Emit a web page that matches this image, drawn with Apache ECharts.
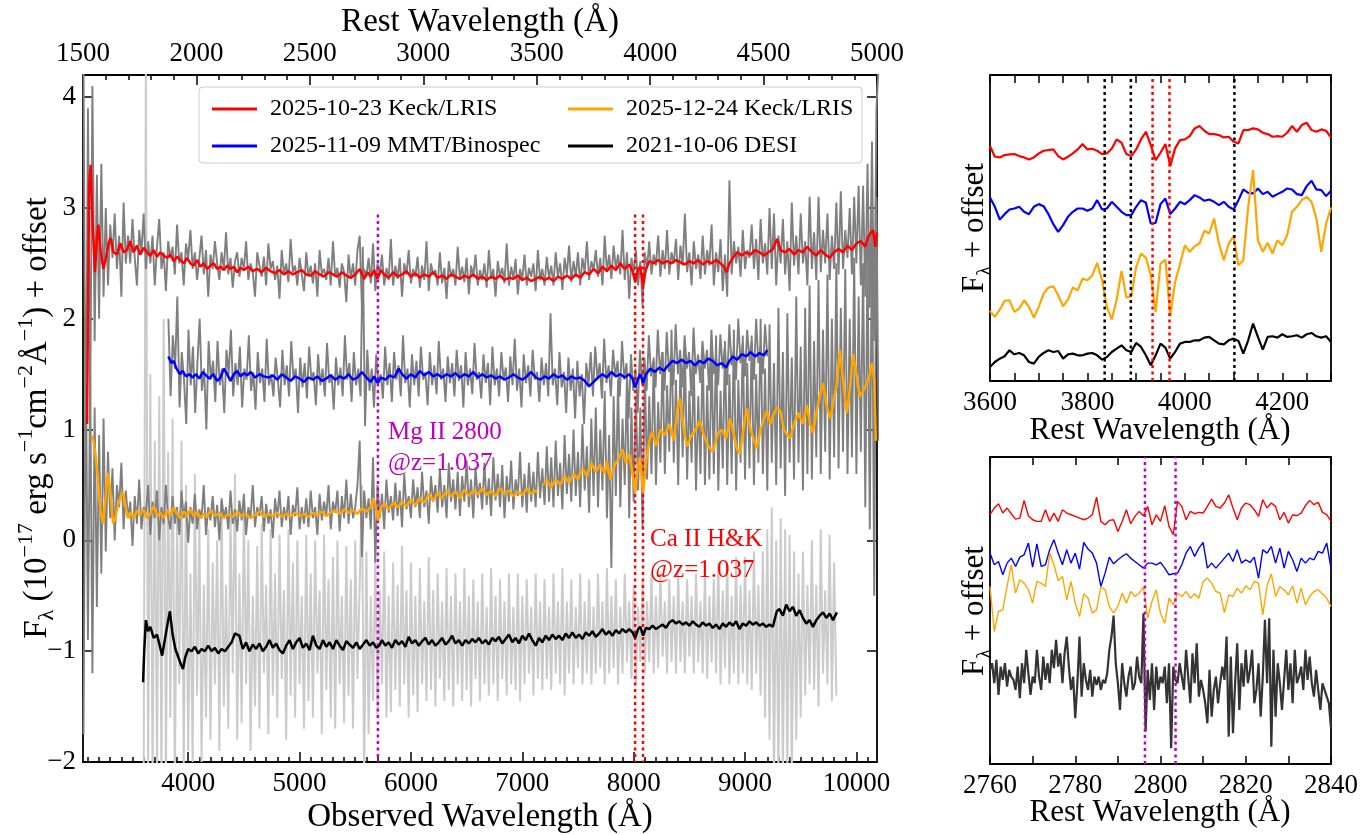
<!DOCTYPE html>
<html>
<head>
<meta charset="utf-8">
<script src="https://cdn.jsdelivr.net/npm/echarts@6/dist/echarts.min.js"></script>
<style>
  html, body { margin: 0; background: #fff; }
  #chart { width: 1372px; height: 835px; }
</style>
</head>
<body>
<div id="chart"></div>
<script>
// ── Redshift and line markers ───────────────────────────────────────────────
const Z = 1.037;
const REST_MIN = 1500, REST_MAX = 5000;
const mgRest = [2800];
const caRest = [3933.7, 3968.5];
const balmerRest = [3835.4, 3889.1, 4101.7];
const mgDoublet = [2796.35, 2803.53];
const markerTopFlux = 2.94;

// ── Main panel: smoothed spectra [observed Å, flux] ─────────────────────────
const lris1023 = [[3092,1.05],[3110,3.2],[3124,3.39],[3140,2.9],[3163,2.42],[3178,2.7],[3193,2.85],[3215,2.6],[3238,2.45],[3262,2.55],[3285,2.68],[3304,2.73],[3330,2.6],[3360,2.58],[3390,2.68],[3420,2.6],[3450,2.62],[3480,2.7],[3510,2.6],[3540,2.66],[3570,2.58],[3600,2.64],[3630,2.6],[3660,2.57],[3690,2.62],[3720,2.56],[3750,2.6],[3780,2.57],[3810,2.55],[3840,2.58],[3870,2.52],[3900,2.56],[3930,2.53],[3960,2.5],[3990,2.55],[4020,2.5],[4050,2.48],[4080,2.53],[4110,2.47],[4140,2.5],[4170,2.45],[4200,2.48],[4230,2.5],[4260,2.45],[4290,2.47],[4320,2.44],[4350,2.48],[4380,2.45],[4410,2.47],[4440,2.42],[4470,2.46],[4500,2.44],[4540,2.47],[4580,2.43],[4620,2.45],[4660,2.42],[4700,2.46],[4740,2.43],[4780,2.41],[4820,2.44],[4860,2.4],[4900,2.43],[4940,2.4],[4980,2.42],[5020,2.44],[5060,2.4],[5100,2.39],[5140,2.43],[5180,2.4],[5220,2.38],[5260,2.42],[5300,2.4],[5340,2.38],[5380,2.42],[5420,2.39],[5460,2.37],[5500,2.4],[5540,2.45],[5580,2.36],[5610,2.42],[5640,2.38],[5670,2.44],[5700,2.36],[5730,2.44],[5760,2.4],[5800,2.37],[5840,2.42],[5880,2.38],[5920,2.4],[5960,2.43],[6000,2.38],[6040,2.41],[6080,2.37],[6120,2.4],[6160,2.38],[6200,2.42],[6240,2.37],[6280,2.39],[6320,2.36],[6360,2.4],[6400,2.38],[6440,2.36],[6480,2.39],[6520,2.37],[6560,2.4],[6600,2.36],[6640,2.38],[6680,2.35],[6720,2.38],[6760,2.36],[6800,2.39],[6840,2.35],[6880,2.37],[6920,2.36],[6960,2.39],[7000,2.35],[7040,2.37],[7080,2.34],[7120,2.36],[7160,2.38],[7200,2.35],[7240,2.37],[7280,2.34],[7320,2.38],[7360,2.36],[7400,2.39],[7440,2.36],[7480,2.4],[7520,2.37],[7560,2.42],[7600,2.4],[7640,2.45],[7680,2.41],[7720,2.47],[7760,2.43],[7800,2.48],[7840,2.44],[7880,2.5],[7920,2.45],[7960,2.49],[7990,2.43],[8014,2.33],[8040,2.45],[8060,2.47],[8085,2.3],[8110,2.45],[8140,2.52],[8180,2.5],[8220,2.53],[8260,2.5],[8300,2.52],[8340,2.5],[8380,2.53],[8420,2.51],[8460,2.49],[8500,2.52],[8540,2.5],[8580,2.53],[8620,2.49],[8660,2.52],[8700,2.5],[8740,2.53],[8780,2.5],[8810,2.47],[8835,2.42],[8860,2.5],[8890,2.55],[8930,2.6],[8970,2.57],[9010,2.6],[9050,2.58],[9090,2.62],[9130,2.6],[9170,2.57],[9210,2.6],[9250,2.63],[9287,2.72],[9320,2.62],[9360,2.6],[9400,2.63],[9440,2.58],[9480,2.62],[9520,2.6],[9560,2.65],[9600,2.6],[9640,2.57],[9680,2.62],[9720,2.58],[9760,2.55],[9800,2.6],[9840,2.63],[9880,2.6],[9920,2.66],[9960,2.62],[10000,2.68],[10040,2.7],[10080,2.65],[10110,2.75],[10150,2.8],[10170,2.65],[10185,2.78]];

const mmt1109 = [[3822,1.66],[3850,1.6],[3870,1.62],[3895,1.55],[3925,1.5],[3950,1.53],[3980,1.48],[4010,1.5],[4040,1.47],[4070,1.5],[4100,1.46],[4130,1.52],[4160,1.49],[4190,1.46],[4225,1.5],[4260,1.44],[4290,1.47],[4320,1.55],[4350,1.5],[4380,1.44],[4410,1.5],[4440,1.53],[4470,1.48],[4500,1.51],[4530,1.49],[4560,1.52],[4600,1.47],[4640,1.5],[4680,1.48],[4720,1.47],[4760,1.49],[4800,1.45],[4840,1.5],[4880,1.47],[4920,1.44],[4960,1.48],[5000,1.46],[5040,1.43],[5080,1.47],[5120,1.45],[5160,1.48],[5200,1.44],[5240,1.46],[5280,1.49],[5320,1.45],[5360,1.48],[5400,1.46],[5440,1.5],[5480,1.45],[5520,1.47],[5560,1.52],[5600,1.47],[5640,1.43],[5670,1.48],[5700,1.42],[5730,1.47],[5770,1.45],[5810,1.49],[5850,1.47],[5890,1.55],[5920,1.5],[5960,1.46],[6000,1.5],[6040,1.47],[6080,1.53],[6120,1.49],[6160,1.52],[6200,1.48],[6240,1.5],[6280,1.47],[6320,1.5],[6360,1.48],[6400,1.51],[6440,1.47],[6480,1.5],[6520,1.48],[6560,1.52],[6600,1.47],[6640,1.5],[6680,1.47],[6720,1.49],[6760,1.46],[6800,1.48],[6840,1.45],[6880,1.47],[6920,1.5],[6960,1.47],[7000,1.45],[7040,1.48],[7080,1.52],[7120,1.47],[7160,1.45],[7200,1.48],[7240,1.46],[7280,1.5],[7320,1.47],[7360,1.49],[7400,1.45],[7440,1.48],[7480,1.46],[7520,1.47],[7560,1.44],[7600,1.39],[7640,1.43],[7680,1.47],[7720,1.5],[7760,1.47],[7800,1.52],[7840,1.48],[7880,1.5],[7920,1.47],[7960,1.5],[7990,1.46],[8014,1.38],[8040,1.46],[8060,1.5],[8085,1.42],[8110,1.5],[8150,1.55],[8190,1.52],[8230,1.56],[8270,1.53],[8310,1.58],[8350,1.62],[8390,1.6],[8430,1.63],[8470,1.6],[8510,1.62],[8550,1.58],[8590,1.62],[8630,1.6],[8670,1.64],[8710,1.62],[8750,1.58],[8790,1.6],[8830,1.56],[8860,1.62],[8890,1.66],[8930,1.63],[8970,1.68],[9010,1.66],[9050,1.7],[9090,1.66],[9130,1.69],[9170,1.67],[9200,1.72]];

const lris1224a = [[3133,0.95],[3150,0.9],[3170,0.75],[3190,0.55],[3210,0.3],[3235,0.15],[3255,0.35],[3280,0.61],[3300,0.45],[3325,0.15],[3345,0.2],[3370,0.32],[3395,0.4],[3415,0.43],[3440,0.3],[3460,0.2],[3480,0.25],[3510,0.2],[3540,0.27],[3570,0.23],[3600,0.28],[3630,0.2],[3660,0.24],[3690,0.31],[3720,0.22],[3750,0.25],[3780,0.2],[3810,0.27],[3840,0.22],[3870,0.3],[3900,0.24],[3930,0.2],[3960,0.26],[3990,0.22],[4020,0.28],[4050,0.22],[4080,0.26],[4110,0.2],[4140,0.24],[4170,0.21],[4200,0.27],[4240,0.22],[4280,0.25],[4320,0.2],[4360,0.24],[4400,0.21],[4440,0.26],[4480,0.22],[4520,0.24],[4560,0.2],[4600,0.23],[4640,0.26],[4680,0.21],[4720,0.24],[4760,0.22],[4800,0.25],[4840,0.21],[4880,0.24],[4920,0.22],[4960,0.25],[5000,0.22],[5040,0.24],[5080,0.21],[5120,0.25],[5160,0.23],[5200,0.26],[5240,0.22],[5280,0.25],[5320,0.27],[5360,0.24],[5400,0.28],[5440,0.25],[5480,0.27],[5520,0.24],[5560,0.29],[5600,0.26],[5640,0.3],[5665,0.38],[5690,0.27],[5705,0.18],[5730,0.3],[5760,0.33],[5800,0.28],[5840,0.34],[5880,0.3],[5920,0.35],[5960,0.31],[6000,0.37],[6040,0.32],[6080,0.38],[6120,0.34],[6160,0.42],[6200,0.36],[6240,0.43],[6280,0.38],[6320,0.45],[6360,0.4],[6400,0.44],[6440,0.38],[6480,0.46],[6520,0.4],[6560,0.45],[6600,0.42],[6640,0.47],[6680,0.41],[6720,0.45],[6760,0.4],[6800,0.47],[6840,0.42],[6880,0.45],[6920,0.4],[6960,0.44],[7000,0.41],[7040,0.47],[7080,0.42],[7120,0.45],[7135,0.43]];
const lris1224b = [[7185,0.5],[7220,0.54],[7260,0.48],[7300,0.55],[7340,0.5],[7380,0.58],[7420,0.52],[7460,0.6],[7500,0.55],[7540,0.65],[7580,0.58],[7620,0.7],[7660,0.62],[7700,0.68],[7740,0.6],[7760,0.72],[7790,0.55],[7830,0.68],[7870,0.75],[7900,0.82],[7930,0.7],[7960,0.78],[7990,0.6],[8014,0.43],[8035,0.65],[8055,0.75],[8070,0.6],[8085,0.43],[8110,0.7],[8140,0.9],[8170,0.98],[8200,0.85],[8240,1.0],[8280,0.95],[8320,1.05],[8360,0.9],[8395,1.2],[8415,1.28],[8450,1.0],[8480,0.85],[8520,0.95],[8560,1.0],[8595,1.08],[8630,0.95],[8670,0.85],[8712,0.8],[8750,0.95],[8790,1.0],[8830,0.92],[8865,1.1],[8900,0.95],[8930,0.82],[8955,0.78],[8985,1.0],[9017,1.19],[9050,1.0],[9080,0.9],[9105,0.83],[9140,1.0],[9170,1.1],[9195,1.17],[9230,1.05],[9260,1.15],[9290,1.2],[9315,1.17],[9350,1.0],[9380,0.95],[9405,0.92],[9440,1.05],[9480,1.15],[9520,1.05],[9555,1.22],[9585,1.05],[9610,0.97],[9640,1.15],[9670,1.3],[9700,1.42],[9735,1.2],[9765,1.1],[9795,1.25],[9825,1.42],[9852,1.72],[9885,1.4],[9915,1.15],[9945,1.4],[9970,1.68],[10000,1.5],[10030,1.3],[10060,1.35],[10095,1.42],[10120,1.5],[10140,1.6],[10160,1.45],[10175,0.9]];

const desi1006 = [[3595,-1.28],[3605,-1.0],[3620,-0.72],[3640,-0.82],[3660,-0.78],[3690,-0.88],[3720,-0.85],[3745,-0.95],[3766,-1.04],[3790,-0.9],[3815,-0.75],[3836,-0.64],[3860,-0.85],[3885,-0.98],[3910,-1.05],[3935,-1.12],[3953,-1.16],[3975,-1.05],[4000,-0.98],[4030,-1.0],[4060,-0.96],[4090,-1.02],[4120,-0.98],[4150,-1.0],[4180,-0.95],[4210,-1.0],[4240,-0.97],[4270,-1.02],[4300,-0.98],[4330,-1.0],[4360,-0.96],[4390,-0.92],[4420,-0.84],[4440,-0.85],[4460,-0.86],[4490,-0.98],[4520,-0.92],[4550,-1.0],[4580,-0.94],[4610,-0.98],[4640,-0.93],[4670,-1.0],[4700,-0.96],[4730,-0.9],[4760,-0.97],[4790,-0.93],[4820,-0.99],[4850,-1.02],[4880,-0.95],[4910,-0.9],[4940,-0.98],[4970,-0.92],[5000,-0.88],[5030,-0.97],[5060,-0.93],[5090,-0.99],[5120,-0.86],[5150,-0.95],[5180,-0.98],[5210,-0.9],[5240,-0.96],[5270,-0.92],[5300,-0.98],[5330,-0.9],[5360,-0.95],[5390,-0.99],[5420,-0.91],[5450,-0.94],[5480,-0.97],[5510,-0.92],[5540,-0.98],[5570,-0.94],[5600,-0.9],[5630,-0.95],[5660,-0.92],[5690,-0.97],[5715,-0.95],[5740,-0.9],[5770,-0.95],[5800,-0.92],[5830,-0.97],[5860,-0.9],[5890,-0.94],[5920,-0.91],[5950,-0.96],[5980,-0.87],[6010,-0.93],[6040,-0.9],[6070,-0.95],[6100,-0.91],[6130,-0.88],[6160,-0.94],[6190,-0.9],[6220,-0.95],[6250,-0.92],[6280,-0.88],[6310,-0.94],[6340,-0.91],[6370,-0.86],[6400,-0.93],[6430,-0.9],[6460,-0.95],[6490,-0.9],[6520,-0.93],[6550,-0.89],[6580,-0.92],[6610,-0.88],[6640,-0.93],[6670,-0.9],[6700,-0.94],[6730,-0.88],[6760,-0.91],[6790,-0.87],[6820,-0.93],[6850,-0.89],[6880,-0.85],[6910,-0.92],[6940,-0.88],[6970,-0.93],[7000,-0.86],[7030,-0.9],[7060,-0.84],[7090,-0.9],[7120,-0.95],[7150,-0.88],[7180,-0.92],[7210,-0.86],[7240,-0.9],[7270,-0.85],[7300,-0.89],[7330,-0.86],[7360,-0.9],[7390,-0.84],[7420,-0.88],[7450,-0.83],[7480,-0.88],[7510,-0.85],[7540,-0.89],[7570,-0.83],[7600,-0.86],[7630,-0.82],[7660,-0.87],[7690,-0.84],[7720,-0.8],[7750,-0.85],[7780,-0.82],[7810,-0.86],[7840,-0.81],[7870,-0.84],[7900,-0.8],[7930,-0.83],[7960,-0.8],[7990,-0.83],[8014,-0.88],[8040,-0.8],[8060,-0.78],[8085,-0.86],[8110,-0.79],[8140,-0.8],[8170,-0.77],[8200,-0.8],[8230,-0.78],[8260,-0.76],[8290,-0.79],[8320,-0.74],[8350,-0.72],[8380,-0.75],[8410,-0.73],[8440,-0.76],[8470,-0.74],[8500,-0.77],[8530,-0.73],[8560,-0.76],[8590,-0.78],[8620,-0.74],[8650,-0.77],[8680,-0.75],[8710,-0.79],[8740,-0.76],[8770,-0.8],[8800,-0.75],[8830,-0.78],[8860,-0.74],[8890,-0.77],[8920,-0.73],[8950,-0.8],[8980,-0.75],[9010,-0.77],[9040,-0.73],[9070,-0.76],[9100,-0.74],[9130,-0.77],[9160,-0.75],[9190,-0.78],[9220,-0.76],[9250,-0.78],[9285,-0.64],[9310,-0.62],[9340,-0.68],[9370,-0.58],[9400,-0.64],[9430,-0.6],[9460,-0.68],[9490,-0.63],[9520,-0.7],[9550,-0.75],[9580,-0.72],[9610,-0.78],[9640,-0.72],[9670,-0.68],[9700,-0.65],[9730,-0.7],[9760,-0.66],[9790,-0.72],[9825,-0.65]];

// ── Main panel: unsmoothed spectra, evenly sampled between the two ends ──────
const lris1023RawRange = [3060, 10200];
const lris1023Raw = [
  4.3,0.5,3.9,1.2,4.1,1.8,3.3,2.0,3.4,2.2, 3.0,2.3,2.85,2.55,2.95,2.45,2.75,2.2,3.05,2.5,
  2.75,2.5,2.9,2.55,2.3,2.8,2.6,2.95,2.45,2.7, 2.5,2.75,2.3,2.65,2.9,2.45,2.6,2.25,2.7,2.55,
  2.65,2.4,2.85,2.5,2.6,2.3,2.68,2.55,2.8,2.45, 2.6,2.35,2.55,2.75,2.4,2.62,2.2,2.58,2.45,2.7,
  2.5,2.35,2.6,2.45,2.78,2.4,2.55,2.28,2.52,2.6, 2.38,2.55,2.45,2.7,2.35,2.5,2.42,2.2,2.6,2.48,
  2.38,2.56,2.3,2.68,2.45,2.52,2.35,2.48,2.18,2.62, 2.4,2.5,2.33,2.72,2.42,2.48,2.3,2.55,2.4,2.25,
  2.6,2.38,2.48,2.32,2.5,2.2,2.62,2.4,2.45,2.35, 2.55,2.3,2.7,2.38,2.46,2.28,2.5,2.42,2.15,2.58,
  2.36,2.5,2.3,2.62,2.75,2.1,2.45,2.38,2.55,2.32, 2.68,2.25,2.5,2.4,2.58,2.3,2.46,2.35,2.72,2.3,
  2.48,2.36,2.55,2.2,2.5,2.4,2.62,2.32,2.45,2.38, 2.56,2.28,2.48,2.35,2.7,2.25,2.5,2.4,2.44,2.3,
  2.6,2.32,2.46,2.18,2.52,2.38,2.45,2.3,2.65,2.36, 2.47,2.33,2.55,2.22,2.48,2.38,2.58,2.3,2.44,2.35,
  2.5,2.28,2.62,2.36,2.45,2.2,2.52,2.38,2.46,2.32, 2.68,2.3,2.47,2.36,2.54,2.22,2.45,2.35,2.58,2.3,
  2.46,2.38,2.5,2.25,2.62,2.35,2.45,2.3,2.56,2.36, 2.48,2.3,2.6,2.38,2.5,2.26,2.55,2.4,2.66,2.33,
  2.52,2.38,2.6,2.3,2.55,2.42,2.7,2.35,2.52,2.44, 2.62,2.38,2.55,2.3,2.75,2.42,2.58,2.36,2.66,2.45,
  2.58,2.4,2.8,2.35,2.6,2.18,2.55,2.42,2.62,2.3, 2.52,2.12,2.6,2.45,2.7,2.4,2.58,2.48,2.75,2.38,
  2.62,2.45,2.8,2.4,2.6,2.5,2.72,2.35,2.66,2.48, 2.95,2.42,2.6,2.3,2.7,2.45,2.58,2.36,2.75,2.4,
  2.62,2.48,2.85,2.3,2.6,2.42,2.72,2.25,2.58,2.2, 3.25,2.4,2.7,2.5,2.65,2.38,2.8,2.45,2.62,2.55,
  2.85,2.45,2.72,2.35,2.9,2.5,2.68,2.4,3.0,2.45, 2.95,2.3,2.75,2.5,2.9,2.4,2.7,2.25,3.05,2.48,
  2.75,2.4,2.95,2.5,2.7,2.3,3.1,2.45,2.78,2.35, 3.1,2.42,2.8,2.5,2.95,2.35,2.75,2.45,3.05,2.4,
  3.15,2.45,2.8,2.55,3.0,2.4,3.1,2.5,3.2,2.3, 3.2,2.2,3.4,2.1,3.6,1.8,3.9,4.3];

const mmt1109RawRange = [3822, 9200];
const mmt1109Raw = [
  2.0,1.3,1.85,1.55,2.2,1.2,1.7,1.45,1.05,1.9, 1.4,1.75,1.15,1.6,2.0,1.35,1.55,1.0,1.8,1.45,
  1.62,1.25,1.8,1.4,1.55,1.15,1.72,1.5,1.9,1.3, 1.6,1.4,1.75,1.2,1.55,1.45,1.85,1.35,1.52,1.18,
  1.7,1.42,1.55,1.25,1.82,1.4,1.5,1.3,1.65,1.45, 1.2,1.72,1.4,1.58,1.3,1.8,1.45,1.55,1.15,1.65,
  1.38,1.6,1.28,1.75,1.45,1.52,1.22,1.68,1.4,1.55, 1.3,1.78,1.42,1.5,1.18,1.65,1.4,1.56,1.3,1.85,
  1.45,1.6,1.25,1.7,1.4,1.55,1.3,2.65,1.03,1.72, 1.35,1.55,1.2,1.68,1.42,1.5,1.28,1.75,1.4,1.6,
  1.25,1.7,1.45,1.58,1.3,1.85,1.42,1.55,1.2,1.68, 1.4,1.62,1.3,1.75,1.45,1.52,1.22,1.7,1.4,1.58,
  1.32,1.8,1.45,1.55,1.25,1.66,1.42,1.6,1.3,1.72, 1.44,1.58,1.2,1.7,1.4,1.55,1.32,1.78,1.45,1.52,
  1.28,1.68,1.42,1.6,1.22,1.75,1.4,1.55,1.3,1.7, 1.45,1.56,1.25,1.66,1.4,1.82,1.35,1.55,1.2,1.68,
  1.42,1.58,1.3,1.72,1.45,1.52,1.25,1.65,1.4,1.6, 1.3,2.05,1.4,1.55,1.22,1.7,1.38,1.52,1.15,1.65,
  1.35,1.55,1.1,1.62,1.3,1.5,1.05,1.6,1.4,1.7, 1.3,1.75,1.45,1.6,1.28,1.82,1.42,1.58,1.3,1.72,
  1.48,1.62,1.3,1.8,1.45,1.6,1.1,1.68,1.35,1.55, 1.15,1.72,1.4,1.65,1.35,1.85,1.48,1.62,1.38,1.9,
  1.5,1.7,1.35,1.88,1.52,1.68,1.4,1.95,1.5,1.72, 1.38,1.85,1.55,1.7,1.3,1.92,1.5,1.68,1.42,1.8,
  1.55,1.72,1.35,1.9,1.5,1.66,1.4,1.86,1.55,1.75, 1.4,1.95,1.58,1.72,1.45,2.0,1.6,1.78,1.48,1.9,
  1.62,1.8,1.45,2.0,1.6,1.75,1.5,1.95,1.66];

const lris1224RawRange = [3060, 10200];
const lris1224Raw = [
  -1.75,1.8,-0.9,1.5,-1.2,1.2,-0.6,0.95,-0.3,1.1, -0.1,0.8,0.2,0.65,0.0,0.5,0.3,0.7,0.1,0.45,
  0.2,0.35,-0.05,0.4,0.15,0.55,0.1,0.3,0.25,0.5, 0.05,0.35,0.2,0.45,0.0,0.3,0.15,0.5,0.2,0.1,
  0.4,0.15,0.3,0.05,0.45,0.2,0.35,-0.02,0.3,0.15, 0.42,0.1,0.28,0.2,0.5,0.05,0.3,0.18,0.4,0.12,
  0.32,0.0,0.38,0.2,0.3,0.1,0.45,0.15,0.28,0.08, 0.36,0.18,0.42,0.05,0.3,0.2,0.5,0.12,0.3,0.22,
  0.4,0.08,0.33,0.15,0.28,0.02,0.38,0.2,0.45,0.12, 0.3,0.18,0.4,0.05,0.32,0.22,0.48,0.1,0.3,0.15,
  0.38,0.12,0.45,0.2,0.3,0.05,0.42,0.18,0.35,0.22, 0.5,0.1,0.35,0.25,0.45,0.08,0.4,0.2,0.55,0.15,
  0.42,0.2,0.3,0.5,0.9,-0.15,0.45,0.2,0.38,0.1, 0.75,-0.2,0.5,0.2,0.42,0.1,0.55,0.25,0.4,0.18,
  0.52,0.22,0.45,0.12,0.6,0.28,0.4,0.2,0.55,0.3, 0.48,0.2,0.62,0.3,0.45,0.15,0.58,0.35,0.5,0.25,
  0.65,0.3,0.5,0.2,0.7,0.35,0.55,0.28,0.62,0.22, 0.58,0.35,0.72,0.3,0.55,0.2,0.66,0.38,0.52,0.28,
  0.7,0.32,0.56,0.22,0.75,0.36,0.6,0.3,0.68,0.2, 0.58,0.35,0.72,0.28,0.55,0.4,0.8,0.3,0.6,0.25,
  0.7,0.35,0.62,0.3,0.8,0.38,0.65,0.32,0.85,0.35, 0.75,0.3,0.9,0.4,0.7,0.28,0.95,0.42,0.78,0.35,
  1.0,0.4,0.8,0.3,1.05,0.45,0.85,0.25,1.1,0.4, 1.2,0.3,1.0,0.45,1.35,0.2,0.95,-0.25,1.3,0.4,
  1.45,0.3,1.1,0.5,1.5,0.2,1.2,0.35,1.3,0.45, 1.2,0.1,1.55,0.55,1.3,0.6,1.65,0.5,1.25,0.7,
  1.7,0.6,1.4,0.8,1.9,0.7,1.45,0.5,1.6,0.75, 1.75,0.55,1.35,0.7,1.6,0.45,1.3,0.6,1.75,0.5,
  1.4,0.55,1.7,0.6,1.85,0.45,1.35,0.65,1.8,0.5, 1.5,0.6,1.9,0.45,1.45,0.7,1.85,0.55,1.6,0.65,
  1.85,0.5,1.5,0.7,2.0,0.6,1.55,0.45,1.95,0.7, 1.6,0.5,2.1,0.65,1.7,0.4,2.05,0.7,1.65,0.55,
  2.2,0.7,1.75,0.45,2.1,0.6,2.3,0.55,1.8,0.75, 2.35,0.6,1.9,0.8,2.4,0.55,2.0,0.75,2.5,0.65,
  2.1,0.8,2.45,0.6,2.0,0.75,2.55,0.6,2.2,0.8, 2.5,0.3,2.7,0.1,2.9,-0.5,3.1,0.9];

const desi1006RawRange = [3600, 9820];
const desi1006Raw = [
  -2.2,4.3,-2.2,1.5,-2.2,0.9,-2.1,1.3,-2.2,2.0, -2.2,0.8,-1.6,1.1,-2.2,0.2,-1.3,0.9,-2.1,0.5,
  -1.9,-0.3,-2.0,0.6,-1.4,0.2,-2.0,-0.4,-1.6,0.1, -1.8,-0.2,-1.3,0.0,-1.9,0.35,-1.5,-0.4,-1.7,0.25,
  -1.2,0.6,-1.8,-0.3,-1.65,0.3,-1.3,0.0,-1.9,-0.5, -1.5,-0.05,-1.7,0.15,-1.2,-0.4,-1.75,0.1,-1.4,-0.3,
  -1.6,0.05,-1.25,-0.45,-1.8,0.1,-1.4,-0.2,-1.6,0.0, -1.3,-0.5,-1.7,0.05,-1.45,-0.3,-1.6,0.0,-1.2,-0.45,
  -1.75,0.05,-1.35,-0.35,-1.6,-0.15,-1.7,0.0,-1.3,-0.5, -1.65,-0.05,-1.4,-0.35,-1.7,0.0,-1.25,-0.4,0.5,-2.2,
  -0.1,-1.75,-0.5,-1.45,-0.15,-1.6,-0.45,-1.3,-0.1,-1.6, -0.5,-1.55,-0.2,-1.35,-0.4,-1.5,-0.05,-1.3,-0.45,-1.6,
  -0.2,-1.4,-0.5,-1.55,-0.25,-1.3,-0.55,-1.45,-0.15,-1.35, -0.45,-1.5,-0.3,-1.25,-0.55,-1.45,-0.25,-1.35,-0.5,-1.5,
  -0.3,-1.3,-0.55,-1.45,-0.25,-1.35,-0.5,-1.5,-0.35,-1.25, -0.55,-1.45,-0.3,-1.3,-0.6,-1.4,-0.25,-1.3,-0.5,-1.45,
  -0.35,-1.25,-0.55,-1.4,-0.3,-1.3,-0.6,-1.35,-0.3,-1.45, -0.5,-1.3,-0.35,-1.2,-0.6,-1.4,-0.3,-1.25,-0.55,-1.35,
  -0.35,-1.25,-0.6,-1.35,-0.3,-1.2,-0.55,-1.3,-0.25,-1.4, -0.55,-1.2,-0.35,-1.3,-0.6,-1.15,-0.3,-1.3,-0.55,-1.2,
  -0.35,-1.3,-0.6,-1.2,-0.3,-1.15,-0.55,-1.3,-0.25,-1.2, -0.5,-1.15,-0.35,-1.3,-0.6,-1.2,-0.3,-1.1,-0.55,-1.25,
  -0.4,-1.3,-0.6,-1.1,-0.35,-1.2,-0.55,-1.1,-0.3,-1.2, -0.5,-1.15,-0.3,-1.05,-0.55,-1.2,-0.35,-1.1,-0.5,-1.2,
  -0.3,-1.1,-0.55,-1.2,-0.35,-1.05,-0.5,-1.2,-0.3,-1.1, -0.55,-1.2,-0.3,-1.25,-0.5,-1.1,-0.35,-1.2,-0.2,-1.3,
  -0.45,-1.15,-0.2,-1.3,-0.5,-1.2,-0.15,-1.3,-0.4,-1.2, -0.15,-1.3,-0.45,-1.35,-0.1,-1.2,-0.4,-1.4,-0.1,-1.6,
  0.1,-1.8,0.3,-2.2,0.0,-2.2,0.2,-2.2,0.1,-2.1, 0.05,-2.2,-0.1,-1.8,-0.3,-1.6,-0.1,-1.4,-0.4,-1.3,
  0.0,-1.35,-0.4,-1.5,0.1,-1.2,-0.45,-1.3,0.05,-1.45, -0.2,-1.4];

// ── Upper right: Ca II H&K region, rest 3600–4300 Å in 10 Å steps ────────────
const hkRange = [3600, 4300];
const hkRed = [70.4,67.2,67.0,67.7,67.9,68.0,67.4,67.0,66.4,67.0,68.2,69.0,69.2,69.4,67.4,66.4,67.2,68.2,69.4,71.0,69.4,69.6,69.0,68.0,68.2,69.7,72.4,71.4,68.0,67.4,69.4,72.4,74.7,70.7,66.2,68.4,71.0,64.4,69.7,72.2,72.4,73.4,75.7,76.4,75.0,74.0,74.0,73.7,73.0,73.2,71.7,71.2,75.2,75.2,75.7,75.4,74.4,74.0,73.2,73.4,73.2,74.4,76.4,74.7,76.7,77.4,75.2,74.7,75.4,75.0,73.0];
const hkBlue = [55.0,52.2,48.4,50.0,51.4,51.7,52.2,50.7,50.0,52.2,53.0,52.4,50.0,47.0,44.7,46.7,49.2,50.7,51.7,51.7,51.0,51.7,54.2,51.4,51.7,53.7,52.2,50.7,49.7,49.7,52.2,54.2,53.4,47.2,47.4,53.0,54.7,50.0,51.7,53.7,53.0,54.2,55.7,55.0,54.0,54.4,53.7,52.7,53.7,52.2,51.4,54.2,57.4,56.4,56.2,57.7,56.0,56.7,55.2,56.0,56.7,57.7,57.4,56.0,55.7,58.4,60.0,57.4,57.2,55.4,57.0];
const hkOrange = [21.0,19.2,21.4,24.0,24.2,20.7,21.7,24.2,22.2,19.0,22.2,26.2,28.0,28.4,25.7,22.4,24.4,28.0,27.2,30.7,30.2,31.7,35.4,30.2,22.2,18.4,24.4,33.0,25.0,25.4,34.2,38.2,37.0,31.7,20.7,35.2,36.4,19.4,29.7,35.0,40.7,38.7,40.4,41.2,45.0,44.2,48.7,41.2,36.2,41.2,43.4,34.7,36.2,52.2,63.2,42.2,38.7,41.4,38.2,42.2,40.7,43.7,50.7,52.2,54.2,55.2,53.7,48.7,38.7,47.2,52.0];
const hkBlack = [4.2,5.7,6.7,7.4,9.2,8.0,8.4,7.7,5.7,5.2,7.2,8.4,9.2,8.7,9.0,6.7,8.0,8.2,7.7,7.7,8.2,8.4,7.7,6.4,7.2,8.7,9.7,10.7,9.2,8.7,11.4,10.2,7.7,4.7,7.7,11.2,10.0,6.7,8.7,11.2,11.7,11.7,12.2,12.2,13.0,13.2,12.2,11.2,11.0,12.2,12.7,12.0,8.2,12.2,17.2,13.2,9.4,13.2,13.4,13.0,14.0,13.2,13.4,13.7,13.0,14.0,14.4,13.4,13.0,13.4,11.7];
const hkYMax = 91.7;

// ── Lower right: Mg II region, rest 2760–2840 Å ─────────────────────────────
const mgRange = [2760, 2840];
const mgRed = [74.7,76.7,78.0,75.2,76.7,75.0,73.4,73.7,79.0,74.4,73.2,72.7,72.7,76.2,72.7,75.2,72.7,76.2,75.2,74.7,74.2,73.7,73.2,73.7,74.7,80.0,72.7,71.7,73.0,73.2,69.7,72.7,76.2,72.0,74.2,75.7,74.4,77.2,71.7,74.7,72.7,77.4,71.2,68.7,78.7,77.2,73.2,75.7,75.0,75.4,75.2,77.2,79.4,77.2,76.7,78.2,80.7,76.7,73.2,76.7,78.2,77.7,76.2,74.2,79.2,76.7,78.2,77.2,73.2,75.4,72.2,74.7,74.4,75.2,77.4,79.0,77.7,78.4,75.4,74.7,72.7];
const mgBlue = [63.2,59.7,60.7,56.7,60.2,61.7,59.2,62.0,62.7,66.2,59.0,66.0,59.2,59.7,64.2,67.2,63.2,59.7,64.2,60.2,63.2,58.4,66.4,64.4,63.2,60.2,53.2,57.2,62.0,60.0,61.2,62.2,63.0,61.7,60.7,59.7,58.7,60.2,60.2,59.7,60.4,58.7,56.7,57.0,57.2,59.7,63.2,65.2,62.2,64.7,66.4,58.7,60.2,58.7,60.2,61.7,63.2,60.7,64.2,60.2,61.2,60.4,62.0,55.7,64.2,63.2,65.2,60.2,64.7,58.7,63.7,61.2,57.7,61.7,60.2,61.7,61.2,63.7,63.2,66.2,58.7];
const mgOrange = [53.2,39.7,45.7,46.2,53.2,59.7,51.2,55.2,54.2,52.2,48.2,54.7,54.2,53.2,63.2,59.7,55.0,56.2,49.2,54.7,48.2,44.2,51.0,49.7,45.2,46.2,53.2,52.2,47.2,45.2,47.2,51.2,48.2,51.7,50.2,51.2,53.0,43.7,48.7,52.2,45.2,42.2,49.7,47.7,51.2,50.2,51.7,49.7,51.0,49.7,54.7,55.7,54.2,51.7,51.2,45.4,50.7,50.2,52.7,51.2,53.4,52.2,54.7,54.2,44.7,53.4,57.0,50.2,53.2,52.2,50.7,53.4,48.2,52.7,47.7,50.2,51.7,52.2,51.0,49.7,47.2];
const mgBlack = [28.2,30.2,24.2,31.2,20.7,29.2,25.2,30.2,23.2,28.2,26.2,
  25.2,22.2,29.2,19.7,30.2,24.2,34.2,27.2,20.7,26.2,
  24.2,34.2,26.2,22.2,32.2,25.2,30.2,24.2,34.2,28.7,
  37.2,29.2,33.2,24.2,33.2,38.2,29.2,22.2,26.2,13.7,
  24.2,38.2,20.2,30.2,25.2,22.2,28.2,20.2,26.2,23.7,
  26.2,22.2,25.2,24.2,27.2,34.2,38.2,44.5,30.2,24.2,
  16.2,30.2,24.2,20.2,26.2,29.2,22.2,24.2,32.2,26.2,
  24.2,45.2,9.7,28.2,19.2,30.2,16.2,29.2,22.2,26.2,
  24.2,29.2,18.2,30.2,4.7,29.2,25.2,24.2,30.2,26.2,
  22.2,34.2,26.2,18.2,33.2,24.2,36.2,20.2,25.2,22.2,
  18.2,12.2,28.2,14.2,22.2,26.2,18.2,24.2,29.2,25.2,
  38.2,8.2,32.2,9.2,24.2,36.2,16.2,30.2,23.2,34.2,
  24.2,28.2,34.2,18.2,22.2,30.2,14.2,26.2,43.2,24.2,
  43.7,5.2,34.2,14.2,30.2,24.2,16.2,25.2,34.2,22.2,
  30.2,18.2,34.2,24.2,26.2,29.2,22.2,34.2,25.2,32.2,
  24.2,20.2,28.2,22.2,16.2,24.2,22.2,20.2,18.2,10.7];
const mgYMax = 92;

// ── Ticks ────────────────────────────────────────────────────────────────────
const obsMajorTicks = [4000, 5000, 6000, 7000, 8000, 9000, 10000];
const fluxTicks = [-2, -1, 0, 1, 2, 3, 4];

const FONT = '"Liberation Serif", "Times New Roman", "DejaVu Serif", serif';
const OBS_MIN = REST_MIN * (1 + Z);
const OBS_MAX = REST_MAX * (1 + Z);

const obsMinorTicks = [];
for (let w = 3100; w < OBS_MAX; w += 100) if (w % 1000 !== 0) obsMinorTicks.push(w);

function evenly(range, values) {
  const step = (range[1] - range[0]) / (values.length - 1);
  return values.map((v, i) => [range[0] + i * step, v]);
}

function line(name, data, color, width, xi, yi, extra) {
  return Object.assign({
    type: 'line', name, data, xAxisIndex: xi, yAxisIndex: yi,
    symbol: 'none', showSymbol: false, color,
    lineStyle: { color, width }, silent: true, animation: false,
    emphasis: { disabled: true }, z: 2
  }, extra || {});
}

function vline(x, y0, y1, color, xi, yi) {
  return line('', [[x, y0], [x, y1]], color, 2.5, xi, yi,
    { lineStyle: { color, width: 2.5, type: [3, 3.5] }, z: 3 });
}

const plain = v => String(v);
const minus = v => (v < 0 ? '\u2212' + Math.abs(v) : String(v));

const axisLine = { show: true, onZero: false, lineStyle: { color: '#000', width: 1.8 } };
const noLine = { show: false, onZero: false };
const tickStyle = { color: '#000', width: 1.5 };
const labelStyle = { color: '#000', fontSize: 27, fontFamily: FONT };

const xAxes = [
  // main panel, observed wavelength (bottom)
  { gridIndex: 0, type: 'value', position: 'bottom', min: OBS_MIN, max: OBS_MAX,
    axisLine, splitLine: { show: false },
    axisTick: { inside: true, length: 10, lineStyle: tickStyle, customValues: obsMajorTicks },
    axisLabel: Object.assign({ margin: 8, customValues: obsMajorTicks, formatter: plain }, labelStyle) },
  { gridIndex: 0, type: 'value', position: 'bottom', min: OBS_MIN, max: OBS_MAX,
    axisLine: noLine, splitLine: { show: false }, axisLabel: { show: false },
    axisTick: { inside: true, length: 5, lineStyle: tickStyle, customValues: obsMinorTicks } },
  // main panel, rest wavelength (top)
  { gridIndex: 0, type: 'value', position: 'top', min: REST_MIN, max: REST_MAX, interval: 500,
    axisLine, splitLine: { show: false },
    axisTick: { inside: true, length: 10, lineStyle: tickStyle },
    minorTick: { show: true, splitNumber: 5, length: 5, lineStyle: tickStyle },
    axisLabel: Object.assign({ margin: 8, formatter: plain }, labelStyle) },
  // upper right
  { gridIndex: 1, type: 'value', position: 'bottom', min: hkRange[0], max: hkRange[1], interval: 50,
    axisLine, splitLine: { show: false },
    axisTick: { inside: true, length: 8, lineStyle: tickStyle },
    axisLabel: Object.assign({ margin: 8, formatter: v => (v % 200 === 0 ? String(v) : '') }, labelStyle) },
  { gridIndex: 1, type: 'value', position: 'top', min: hkRange[0], max: hkRange[1], interval: 50,
    axisLine, splitLine: { show: false }, axisLabel: { show: false },
    axisTick: { inside: true, length: 8, lineStyle: tickStyle } },
  // lower right
  { gridIndex: 2, type: 'value', position: 'bottom', min: mgRange[0], max: mgRange[1], interval: 10,
    axisLine, splitLine: { show: false },
    axisTick: { inside: true, length: 8, lineStyle: tickStyle },
    axisLabel: Object.assign({ margin: 8, formatter: v => (v % 20 === 0 ? String(v) : '') }, labelStyle) },
  { gridIndex: 2, type: 'value', position: 'top', min: mgRange[0], max: mgRange[1], interval: 10,
    axisLine, splitLine: { show: false }, axisLabel: { show: false },
    axisTick: { inside: true, length: 8, lineStyle: tickStyle } }
];

const plainY = (grid, pos, max) => ({
  gridIndex: grid, type: 'value', position: pos, min: 0, max,
  axisLine, splitLine: { show: false }, axisTick: { show: false }, axisLabel: { show: false }
});

const yAxes = [
  { gridIndex: 0, type: 'value', position: 'left', min: -2, max: 4.2,
    axisLine, splitLine: { show: false },
    axisTick: { inside: true, length: 10, lineStyle: tickStyle, customValues: fluxTicks },
    axisLabel: Object.assign({ margin: 7, customValues: fluxTicks, formatter: minus }, labelStyle) },
  { gridIndex: 0, type: 'value', position: 'right', min: -2, max: 4.2,
    axisLine, splitLine: { show: false }, axisLabel: { show: false },
    axisTick: { inside: true, length: 10, lineStyle: tickStyle, customValues: fluxTicks } },
  plainY(1, 'left', hkYMax), plainY(1, 'right', hkYMax),
  plainY(2, 'left', mgYMax), plainY(2, 'right', mgYMax)
];

const NAMES = ['2025-10-23 Keck/LRIS', '2025-11-09 MMT/Binospec', '2025-12-24 Keck/LRIS', '2021-10-06 DESI'];
const RED = '#ff0000', BLUE = '#0000ff', ORANGE = '#ffa500', MAGENTA = '#bf00bf';

const series = [
  // raw spectra first, so the smoothed curves sit on top
  line('desiRaw', evenly(desi1006RawRange, desi1006Raw), '#cbcbcb', 2.0, 0, 0),
  line('lris1224Raw', evenly(lris1224RawRange, lris1224Raw), '#7f7f7f', 1.9, 0, 0),
  line('mmtRaw', evenly(mmt1109RawRange, mmt1109Raw), '#7f7f7f', 1.9, 0, 0),
  line('lris1023Raw', evenly(lris1023RawRange, lris1023Raw), '#7f7f7f', 1.9, 0, 0),
  line(NAMES[0], lris1023, RED, 2.5, 0, 0, { z: 4 }),
  line(NAMES[1], mmt1109, BLUE, 2.5, 0, 0, { z: 4 }),
  line(NAMES[2], lris1224a, ORANGE, 2.5, 0, 0, { z: 4 }),
  line('lris1224b', lris1224b, ORANGE, 2.5, 0, 0, { z: 4 }),
  line(NAMES[3], desi1006, '#000000', 2.5, 0, 0, { z: 4 })
];

mgRest.forEach(r => series.push(vline(r * (1 + Z), markerTopFlux, -2, MAGENTA, 0, 0)));
caRest.forEach(r => series.push(vline(r * (1 + Z), markerTopFlux, -2, RED, 0, 0)));

// line identifications, anchored in data coordinates of the main panel
const notes = [
  { text: 'Mg II 2800\n@z=1.037', at: [5794, 0.835], color: MAGENTA },
  { text: 'Ca II H&K\n@z=1.037', at: [8147, -0.135], color: RED }
];

// upper right panel
series.push(
  line('hkRed', evenly(hkRange, hkRed), RED, 2.2, 3, 2),
  line('hkBlue', evenly(hkRange, hkBlue), BLUE, 2.2, 3, 2),
  line('hkOrange', evenly(hkRange, hkOrange), ORANGE, 2.2, 3, 2),
  line('hkBlack', evenly(hkRange, hkBlack), '#000000', 2.2, 3, 2)
);
balmerRest.forEach(r => series.push(vline(r, 0, hkYMax, '#000000', 3, 2)));
caRest.forEach(r => series.push(vline(r, 0, hkYMax, RED, 3, 2)));

// lower right panel
series.push(
  line('mgRed', evenly(mgRange, mgRed), RED, 1.4, 5, 4),
  line('mgBlue', evenly(mgRange, mgBlue), BLUE, 1.4, 5, 4),
  line('mgOrange', evenly(mgRange, mgOrange), ORANGE, 1.4, 5, 4),
  line('mgBlack', evenly(mgRange, mgBlack), '#333333', 2.2, 5, 4)
);
mgDoublet.forEach(r => series.push(vline(r, 0, mgYMax, MAGENTA, 5, 4)));

// ── Titles (rich text for sub/superscripts) ────────────────────────────────
const rich = size => ({
  n: { fontSize: size, fontFamily: FONT, fill: '#000', lineHeight: size + 10 },
  sup: { fontSize: Math.round(size * 0.66), fontFamily: FONT, fill: '#000', verticalAlign: 'top', lineHeight: size + 10 },
  sub: { fontSize: Math.round(size * 0.66), fontFamily: FONT, fill: '#000', verticalAlign: 'bottom', lineHeight: size + 10 }
});
const title = (text, x, y, size, rot) => ({
  type: 'text', x, y, rotation: rot || 0, z: 10, silent: true,
  style: { text, rich: rich(size), fontSize: size, fontFamily: FONT, fill: '#000', align: 'center', verticalAlign: 'middle' }
});
const fluxTitle = '{n|F}{sub|λ}{n| (10}{sup|\u221217}{n| erg s}{sup|\u22121}{n|cm}{sup|\u22122}{n|Å}{sup|\u22121}{n|) + offset}';
const offsetTitle = '{n|F}{sub|λ}{n| + offset}';

const graphics = [
  { type: 'rect', z: 3, silent: true, shape: { x: 199, y: 87, width: 663, height: 76, r: 4 },
    style: { fill: 'rgba(255,255,255,0.8)', stroke: '#cccccc', lineWidth: 1 } },
  title('{n|Rest Wavelength (Å)}', 480, 22, 33),
  title('{n|Observed Wavelength (Å)}', 480, 817, 33),
  title(fluxTitle, 37, 418, 33, Math.PI / 2),
  title('{n|Rest Wavelength (Å)}', 1160, 431, 31),
  title('{n|Rest Wavelength (Å)}', 1160, 813, 31),
  title(offsetTitle, 975, 228, 31, Math.PI / 2),
  title(offsetTitle, 975, 611, 31, Math.PI / 2)
];

const option = {
  animation: false,
  backgroundColor: '#fff',
  grid: [
    { left: 83, top: 75, width: 794, height: 687, outerBoundsMode: 'none' },
    { left: 990, top: 75, width: 341, height: 306, outerBoundsMode: 'none' },
    { left: 990, top: 457, width: 341, height: 307, outerBoundsMode: 'none' }
  ],
  xAxis: xAxes,
  yAxis: yAxes,
  legend: [
    { data: [NAMES[0], NAMES[1]], orient: 'vertical', left: 207, top: 91 },
    { data: [NAMES[2], NAMES[3]], orient: 'vertical', left: 563, top: 91 }
  ].map(l => Object.assign(l, {
    icon: 'rect', itemWidth: 45, itemHeight: 3, itemGap: 11, selectedMode: false,
    textStyle: { fontSize: 24, fontFamily: FONT, color: '#000', lineHeight: 26, padding: [0, 0, 0, 8] }
  })),
  graphic: graphics,
  series
};

const chart = echarts.init(document.getElementById('chart'), null, { renderer: 'canvas' });
chart.setOption(option);

// place the line identifications once the main panel's scales exist
notes.forEach(n => {
  const [px, py] = chart.convertToPixel({ xAxisIndex: 0, yAxisIndex: 0 }, n.at);
  graphics.push({
    type: 'text', x: px, y: py, z: 10, silent: true,
    style: { text: n.text, fontSize: 25, fontFamily: FONT, fill: n.color, lineHeight: 31,
             align: 'left', verticalAlign: 'middle' }
  });
});
chart.setOption({ graphic: graphics });
</script>
</body>
</html>
